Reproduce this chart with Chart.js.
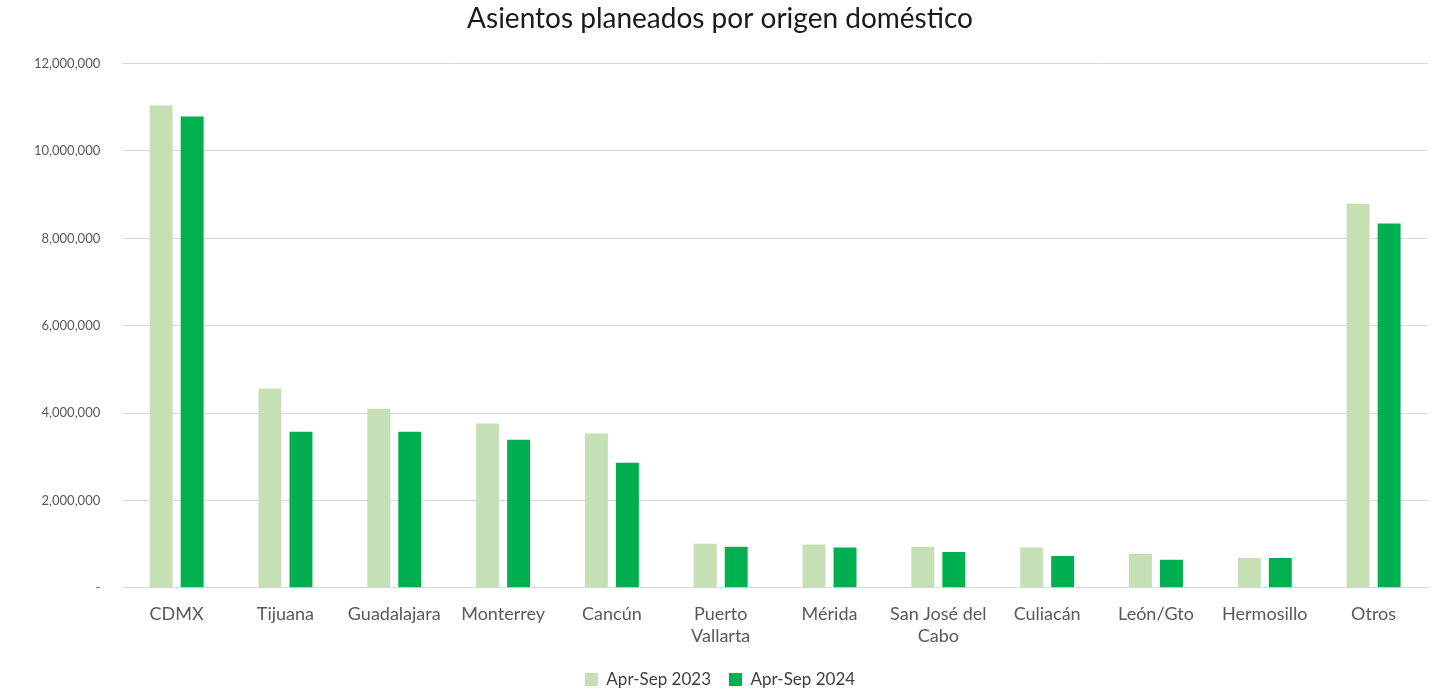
<!DOCTYPE html>
<html>
<head>
<meta charset="utf-8">
<script src="https://cdn.jsdelivr.net/npm/chart.js@4/dist/chart.umd.min.js"></script>
<style>
  html, body { margin: 0; padding: 0; background: #fff; }
  #wrap { width: 1432px; height: 689px; position: relative; }
</style>
</head>
<body>
<div id="wrap"><canvas id="seatsChart"></canvas></div>
<script>
const categories = ['CDMX', 'Tijuana', 'Guadalajara', 'Monterrey', 'Cancún', ['Puerto', 'Vallarta'], 'Mérida', ['San José del', 'Cabo'], 'Culiacán', 'León/Gto', 'Hermosillo', 'Otros'];
const seats2023 = [11040000, 4560000, 4100000, 3760000, 3530000, 1010000, 990000, 940000, 920000, 780000, 680000, 8790000];
const seats2024 = [10790000, 3570000, 3570000, 3390000, 2860000, 940000, 920000, 820000, 730000, 640000, 680000, 8340000];
const yTicks = [0, 2000000, 4000000, 6000000, 8000000, 10000000, 12000000];

const fontFamily = 'Lato, "Liberation Sans", sans-serif';

new Chart(document.getElementById('seatsChart'), {
    type: 'bar',
    data: {
        labels: categories,
        datasets: [
            {
                label: 'Apr-Sep 2023',
                data: seats2023,
                backgroundColor: '#c5e0b4',
                categoryPercentage: 0.57,
                barPercentage: 0.74
            },
            {
                label: 'Apr-Sep 2024',
                data: seats2024,
                backgroundColor: '#00b050',
                categoryPercentage: 0.57,
                barPercentage: 0.74
            }
        ]
    },
    options: {
        responsive: true,
        maintainAspectRatio: false,
        animation: false,
        layout: { padding: { left: 12, right: 4, top: 0, bottom: -9 } },
        scales: {
            x: {
                grid: { display: false },
                border: { color: '#d9d9d9', width: 1 },
                ticks: {
                    color: '#595959',
                    font: { family: fontFamily, size: 18 },
                    maxRotation: 0,
                    autoSkip: false,
                    padding: 8
                },
                afterFit: (scale) => { scale.height -= 2; }
            },
            y: {
                min: 0,
                max: 12000000,
                afterBuildTicks: (axis) => {
                    axis.ticks = yTicks.map(v => ({ value: v }));
                },
                grid: { color: '#d9d9d9', drawTicks: false },
                border: { display: false },
                ticks: {
                    color: '#595959',
                    font: { family: fontFamily, size: 13 },
                    padding: 22,
                    callback: (value) => value === 0 ? '-' : value.toLocaleString('en-US')
                }
            }
        },
        plugins: {
            title: {
                display: true,
                text: 'Asientos planeados por origen doméstico',
                color: '#1a1a1a',
                font: { family: fontFamily, size: 28, weight: 'normal' },
                padding: { top: 2, bottom: 28 }
            },
            legend: {
                position: 'bottom',
                labels: {
                    color: '#404040',
                    font: { family: fontFamily, size: 17 },
                    boxWidth: 13,
                    boxHeight: 13,
                    padding: 18
                }
            },
            tooltip: { enabled: false }
        }
    }
});
</script>
</body>
</html>
